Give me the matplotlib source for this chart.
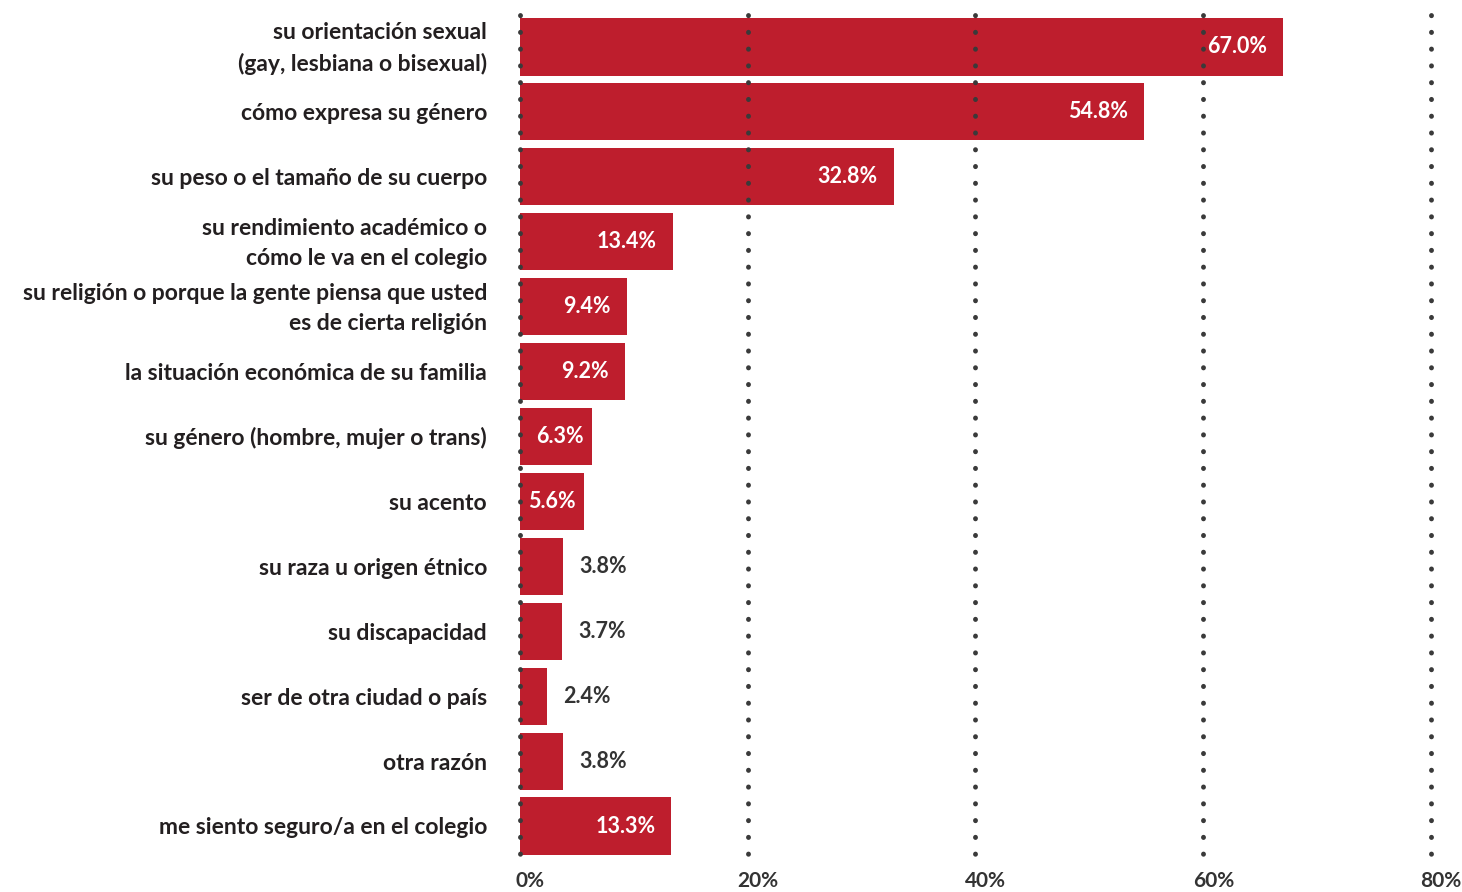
import matplotlib
matplotlib.use("Agg")
import matplotlib.pyplot as plt
import matplotlib.transforms as mtransforms
import numpy as np

plt.rcParams['font.family'] = ['Lato', 'DejaVu Sans']

categories = [
    "su orientación sexual\n(gay, lesbiana o bisexual)",
    "cómo expresa su género",
    "su peso o el tamaño de su cuerpo",
    "su rendimiento académico o\ncómo le va en el colegio",
    "su religión o porque la gente piensa que usted\nes de cierta religión",
    "la situación económica de su familia",
    "su género (hombre, mujer o trans)",
    "su acento",
    "su raza u origen étnico",
    "su discapacidad",
    "ser de otra ciudad o país",
    "otra razón",
    "me siento seguro/a en el colegio",
]
values = [67.0, 54.8, 32.8, 13.4, 9.4, 9.2, 6.3, 5.6, 3.8, 3.7, 2.4, 3.8, 13.3]
ticks = [0, 20, 40, 60, 80]
tick_labels = ["0%", "20%", "40%", "60%", "80%"]

bar_color = "#BE1E2D"
text_color = "#333333"

fig = plt.figure(figsize=(14.62, 8.92), dpi=100)
ax = fig.add_axes([520 / 1462, (892 - 858.5) / 892, (1431 - 520) / 1462, 844 / 892])

y = np.arange(len(categories))
ax.barh(y, values, height=0.88, color=bar_color, zorder=1)

# dotted vertical grid lines drawn over the bars
for t in ticks:
    ax.plot([t, t], [-0.5, 12.5], color="#3a3a3a", linewidth=3.5,
            linestyle=(0, (0.05, 3.4)), dash_capstyle="round", zorder=3, clip_on=False)

px = 80 / (1431 - 520)  # data units per pixel
for i, v in enumerate(values):
    if v >= 5:
        off = 16 if v >= 7 else 8
        ax.text(v - off * px, i, f"{v:.1f}%", ha="right", va="center", color="white",
                fontsize=15.5, fontweight="bold", zorder=4)
    else:
        ax.text(v + 16 * px, i, f"{v:.1f}%", ha="left", va="center", color=text_color,
                fontsize=15.5, fontweight="bold", zorder=4)

for i, c in enumerate(categories):
    ax.text(-33 * px, i + 0.03, c, ha="right", va="center", color="#231f20", fontsize=16.5,
            fontweight="bold", linespacing=1.55)

ax.set_xlim(0, 80)
ax.set_ylim(12.5, -0.5)
for s in ax.spines.values():
    s.set_visible(False)
ax.set_yticks([])
ax.set_xticks(ticks)
ax.set_xticklabels(tick_labels, fontsize=15, fontweight="bold", color=text_color)
ax.tick_params(axis="x", length=0, pad=9)
shift = mtransforms.ScaledTranslation(0.1, 0, fig.dpi_scale_trans)
for lab in ax.get_xticklabels():
    lab.set_transform(lab.get_transform() + shift)

fig.savefig("out.png", dpi=100)
